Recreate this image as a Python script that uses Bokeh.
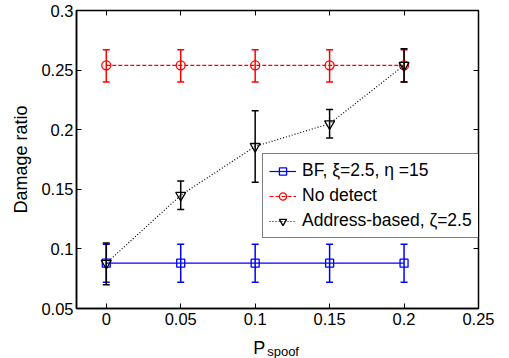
from bokeh.plotting import figure
from bokeh.models import (ColumnDataSource, Whisker, TeeHead, Legend, LegendItem,
                          LinearAxis, FixedTicker, CustomJSTickFormatter, Range1d, Label)
from bokeh.embed import file_html
from bokeh.resources import INLINE

# ---- data ----
p_spoof = [0, 0.05, 0.1, 0.15, 0.2]

bf_val = [0.088, 0.088, 0.088, 0.088, 0.088]
bf_lo = [0.072, 0.072, 0.072, 0.072, 0.072]
bf_hi = [0.104, 0.104, 0.104, 0.104, 0.104]

nd_val = [0.254, 0.254, 0.254, 0.254, 0.254]
nd_lo = [0.240, 0.240, 0.240, 0.240, 0.240]
nd_hi = [0.267, 0.267, 0.267, 0.267, 0.267]

ad_val = [0.088, 0.145, 0.186, 0.205, 0.254]
ad_lo = [0.070, 0.133, 0.156, 0.193, 0.240]
ad_hi = [0.105, 0.157, 0.216, 0.217, 0.268]

x_ticks = [0, 0.05, 0.1, 0.15, 0.2, 0.25]
y_ticks = [0.05, 0.1, 0.15, 0.2, 0.25, 0.3]

labels = ["BF, \u03be=2.5, \u03b7 =15", "No detect", "Address-based, \u03b6=2.5"]

FONT = "Liberation Sans"
TICK_FS = "16.5px"
LAB_FS = "18px"
LEG_FS = "17.5px"

p = figure(width=509, height=358, output_backend="svg", toolbar_location=None,
           x_range=Range1d(-0.02, 0.25), y_range=Range1d(0.05, 0.3),
           min_border_left=76, min_border_right=31, min_border_top=10, min_border_bottom=50)
p.xgrid.visible = False
p.ygrid.visible = False
p.outline_line_color = "black"
p.outline_line_width = 1.5
p.background_fill_color = "white"
p.border_fill_color = "white"

fmt = CustomJSTickFormatter(code="return String(Math.round(tick*100)/100);")

for ax, ticks in ((p.xaxis[0], x_ticks), (p.yaxis[0], y_ticks)):
    ax.ticker = FixedTicker(ticks=ticks)
    ax.formatter = fmt
    ax.major_tick_in = 5
    ax.major_tick_out = 0
    ax.minor_tick_line_color = None
    ax.axis_line_width = 1.5
    ax.major_tick_line_width = 1
    ax.major_label_text_font = FONT
    ax.major_label_text_font_size = TICK_FS
    ax.major_label_text_color = "black"

p.xaxis.major_label_standoff = 4
p.yaxis.major_label_standoff = 3
p.yaxis.axis_label = "Damage ratio"
p.yaxis.axis_label_text_font = FONT
p.yaxis.axis_label_text_font_size = LAB_FS
p.yaxis.axis_label_text_font_style = "normal"
p.yaxis.axis_label_text_color = "black"
p.yaxis.axis_label_standoff = 7

# mirrored tick-only axes (box style)
blank = CustomJSTickFormatter(code="return '';")
top = LinearAxis(ticker=FixedTicker(ticks=x_ticks), formatter=blank, major_tick_in=5,
                 major_tick_out=0, minor_tick_line_color=None, axis_line_color=None,
                 major_label_standoff=0)
right = LinearAxis(ticker=FixedTicker(ticks=y_ticks), formatter=blank, major_tick_in=5,
                   major_tick_out=0, minor_tick_line_color=None, axis_line_color=None,
                   major_label_standoff=0)
p.add_layout(top, "above")
p.add_layout(right, "right")

series = [
    (bf_val, bf_lo, bf_hi, "#0000ff", "solid", "square", 8),
    (nd_val, nd_lo, nd_hi, "#ff0000", "4 2", "circle", 9),
    (ad_val, ad_lo, ad_hi, "#000000", "1 2", "inverted_triangle", 10),
]
items = []
for (val, lo, hi, col, dash, marker, msize), lab in zip(series, labels):
    src = ColumnDataSource(dict(x=p_spoof, y=val, lo=lo, hi=hi))
    w = Whisker(source=src, base="x", upper="hi", lower="lo", line_color=col, line_width=1.5,
                upper_head=TeeHead(size=7, line_color=col, line_width=1.5),
                lower_head=TeeHead(size=7, line_color=col, line_width=1.5))
    p.add_layout(w)
    ln = p.line("x", "y", source=src, line_color=col, line_width=1.2, line_dash=dash)
    sc = p.scatter("x", "y", source=src, marker=marker, size=msize, line_color=col,
                   fill_color=None, line_width=1.3)
    items.append(LegendItem(label=lab, renderers=[ln, sc]))

legend = Legend(items=items, location=(186, 70), border_line_color="black", border_line_width=1,
                background_fill_color="white", background_fill_alpha=1.0,
                label_text_font=FONT, label_text_font_size=LEG_FS, label_text_color="black",
                glyph_width=27, glyph_height=18, label_height=18, label_standoff=6,
                spacing=4, padding=6, margin=0)
p.add_layout(legend)

# x-axis label P_spoof, kept in side panels so it is not clipped to the frame
p.add_layout(Label(x=0.1, y=0.05, x_units="data", y_units="data", text="P",
                   text_font=FONT, text_font_size=LAB_FS, x_offset=-2, y_offset=-39,
                   text_align="left", text_baseline="alphabetic", text_color="black"), "right")
p.add_layout(Label(x=0.1, y=0.05, x_units="data", y_units="data", text="spoof",
                   text_font=FONT, text_font_size="13px", x_offset=12, y_offset=-43,
                   text_align="left", text_baseline="alphabetic", text_color="black"), "below")

open("out.html", "w").write(file_html(p, INLINE))
